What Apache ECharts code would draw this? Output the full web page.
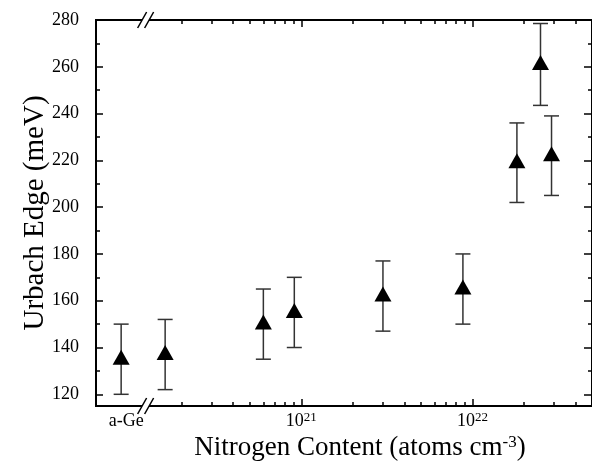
<!DOCTYPE html>
<html>
<head>
<meta charset="utf-8">
<script src="https://cdn.jsdelivr.net/npm/echarts@6/dist/echarts.min.js"></script>
<style>
  html, body { margin: 0; padding: 0; background: #fff; }
  #main { width: 592px; height: 472px; }
</style>
</head>
<body>
<div id="main"></div>
<script>
    // nitrogen content (atoms cm^-3), 'a-Ge' = no nitrogen (left of the axis break)
    var nitrogen = ['a-Ge', 1.6e20, 6.0e20, 9.1e20, 3.0e21, 8.8e21, 1.82e22, 2.5e22, 2.9e22];
    var urbach = [135, 137, 150, 155, 162, 165, 219, 261, 222];
    var urbachErr = [15, 15, 15, 15, 15, 15, 17, 17.5, 17];
    var yTicks = [120, 140, 160, 180, 200, 220, 240, 260, 280];
    var yMinorTicks = [130, 150, 170, 190, 210, 230, 250, 270];
    var xMajorExp = [21, 22];

    var AGE_POS = 19.947;   // where a-Ge sits on the log axis
    var BREAK_POS = 20.09;  // the // mark
    var X_MIN = 19.8, X_MAX = Math.log10(5e22);
    var FONT = 'Liberation Serif';

    // minor ticks 2..9 x 10^n
    var xMinor = [];
    [20, 21, 22].forEach(function (e) {
        for (var m = 2; m <= 9; m++) {
            var v = Math.log10(m) + e;
            if (v <= X_MAX + 1e-9) xMinor.push(v);
        }
    });

    function xPos(n) {
        return n === 'a-Ge' ? AGE_POS : Math.log10(n);
    }

    var points = nitrogen.map(function (n, i) { return [xPos(n), urbach[i]]; });
    var bars = nitrogen.map(function (n, i) {
        return [xPos(n), urbach[i] - urbachErr[i], urbach[i] + urbachErr[i]];
    });

    var lineStyle = { color: '#000', width: 2 };

    function xAx(pos, ticks, len, labels) {
        return {
            type: 'value', position: pos, min: X_MIN, max: X_MAX,
            axisLine: { show: true, onZero: false, lineStyle: lineStyle },
            axisTick: { show: true, inside: true, length: len, customValues: ticks,
                lineStyle: { color: '#000', width: 1.5 } },
            axisLabel: labels || { show: false },
            splitLine: { show: false }
        };
    }

    function yAx(pos, ticks, len, labels) {
        return {
            type: 'value', position: pos, min: 115, max: 280,
            axisLine: { show: true, onZero: false, lineStyle: lineStyle },
            axisTick: { show: true, inside: true, length: len, customValues: ticks,
                lineStyle: { color: '#000', width: 1.5 } },
            axisLabel: labels || { show: false },
            splitLine: { show: false }
        };
    }

    var xMain = xAx('bottom', xMajorExp, 7, {
        show: true,
        customValues: [AGE_POS].concat(xMajorExp),
        margin: 5,
        formatter: function (v) {
            if (Math.abs(v - AGE_POS) < 1e-6) return '{a|a-Ge}';
            return '{b|10}{s|' + Math.round(v) + '}';
        },
        rich: {
            a: { fontFamily: FONT, fontSize: 18, color: '#000', lineHeight: 20, padding: [0, 0, 0, 10] },
            b: { fontFamily: FONT, fontSize: 18, color: '#000', lineHeight: 20 },
            s: { fontFamily: FONT, fontSize: 13, color: '#000', lineHeight: 20, verticalAlign: 'top' }
        }
    });
    xMain.name = 'Nitrogen Content (atoms cm{s|-3})';
    xMain.nameLocation = 'middle';
    xMain.nameGap = 28;
    xMain.nameMoveOverlap = false;
    xMain.nameTextStyle = {
        fontFamily: FONT, fontSize: 27, color: '#000',
        padding: [0, 0, 0, 32],
        rich: { s: { fontFamily: FONT, fontSize: 17, color: '#000', verticalAlign: 'top', padding: [0, 0, 6, 0] } }
    };

    var yMain = yAx('left', yTicks, 7, {
        show: true, customValues: yTicks, margin: 17,
        fontFamily: FONT, fontSize: 18, color: '#000'
    });
    yMain.name = 'Urbach Edge (meV)';
    yMain.nameLocation = 'middle';
    yMain.nameGap = 46;
    yMain.nameMoveOverlap = false;
    yMain.nameTextStyle = { fontFamily: FONT, fontSize: 29, color: '#000' };

    var dom = document.getElementById('main');
    var myChart = echarts.init(dom);

    myChart.setOption({
        animation: false,
        backgroundColor: '#fff',
        grid: { left: 96, right: -2, top: 20, bottom: 66, containLabel: false },
        xAxis: [
            xMain,
            xAx('bottom', xMinor, 4),
            xAx('top', xMajorExp, 7),
            xAx('top', xMinor, 4)
        ],
        yAxis: [
            yMain,
            yAx('left', yMinorTicks, 4),
            yAx('right', yTicks, 8),
            yAx('right', yMinorTicks, 4)
        ],
        series: [{
            type: 'custom',
            xAxisIndex: 0, yAxisIndex: 0,
            data: bars,
            z: 2,
            renderItem: function (params, api) {
                var lo = api.coord([api.value(0), api.value(1)]);
                var hi = api.coord([api.value(0), api.value(2)]);
                var w = 7.5;
                var st = { stroke: '#333', lineWidth: 1.5 };
                return {
                    type: 'group',
                    children: [
                        { type: 'line', shape: { x1: hi[0], y1: hi[1], x2: lo[0], y2: lo[1] }, style: st },
                        { type: 'line', shape: { x1: hi[0] - w, y1: hi[1], x2: hi[0] + w, y2: hi[1] }, style: st },
                        { type: 'line', shape: { x1: lo[0] - w, y1: lo[1], x2: lo[0] + w, y2: lo[1] }, style: st }
                    ]
                };
            }
        }, {
            type: 'scatter',
            xAxisIndex: 0, yAxisIndex: 0,
            data: points,
            symbol: 'triangle',
            symbolSize: [17, 15],
            symbolOffset: [0, -2],
            itemStyle: { color: '#000', opacity: 1 },
            z: 3
        }]
    });

    // axis break marks (//) on the bottom and top axis lines
    var bx = myChart.convertToPixel({ xAxisIndex: 0 }, BREAK_POS);
    var yBot = myChart.convertToPixel({ yAxisIndex: 0 }, 115);
    var yTop = myChart.convertToPixel({ yAxisIndex: 0 }, 280);
    var marks = [];
    [yBot, yTop].forEach(function (y) {
        var s1 = bx - 3.5, s2 = bx + 3.5, h = 8, d = 4.5;
        marks.push({
            type: 'polygon', z: 100,
            shape: { points: [[s1 - d, y + h], [s1 + d, y - h], [s2 + d, y - h], [s2 - d, y + h]] },
            style: { fill: '#fff' }
        });
        [s1, s2].forEach(function (s) {
            marks.push({
                type: 'line', z: 101,
                shape: { x1: s - d, y1: y + h, x2: s + d, y2: y - h },
                style: { stroke: '#000', lineWidth: 1.5 }
            });
        });
    });
    myChart.setOption({ graphic: marks });
</script>
</body>
</html>
